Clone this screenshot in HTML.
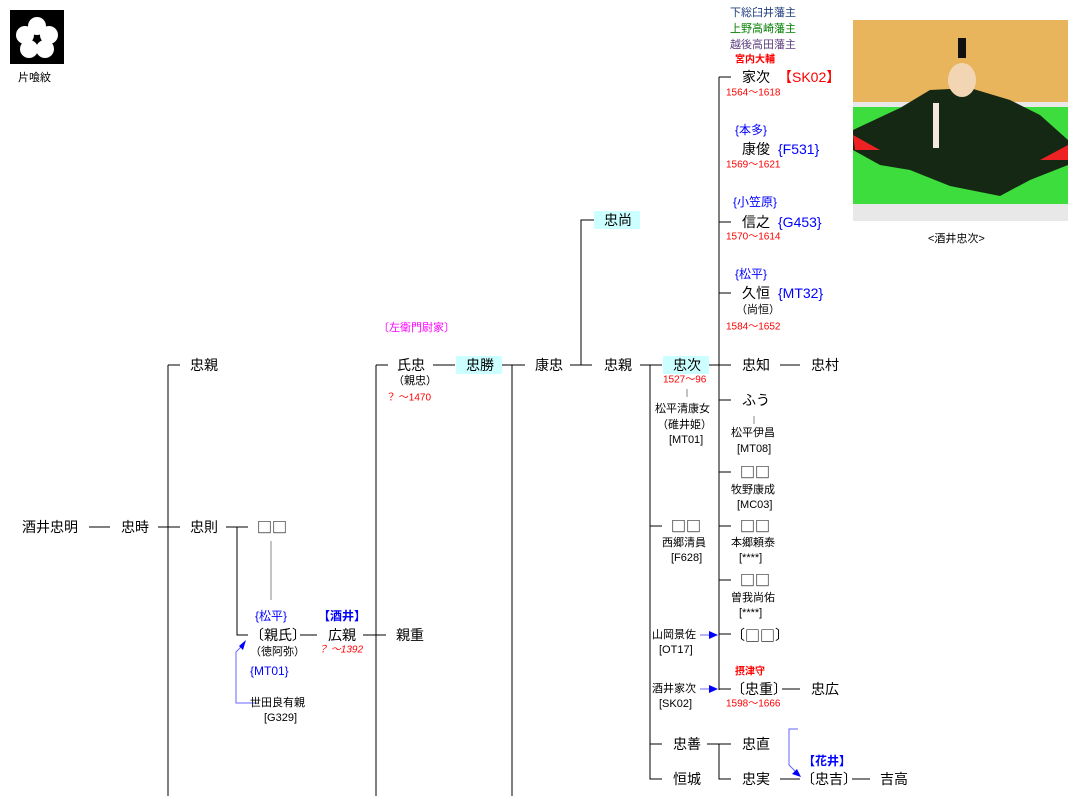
<!DOCTYPE html>
<html><head><meta charset="utf-8"><style>
html,body{margin:0;padding:0;background:#fff;}
svg{display:block;font-family:"Liberation Sans","Noto Sans CJK JP",sans-serif;}
text{dominant-baseline:central;}
.n{font-size:14px;fill:#000;}
.s{font-size:11px;fill:#000;}
.r{font-size:10px;fill:#f00;}
.b{font-size:12px;fill:#00f;}
.q{font-family:"Noto Sans CJK JP",sans-serif;font-size:15px;}
</style></head><body>
<svg width="1074" height="796" viewBox="0 0 1074 796">
<!-- logo -->
<rect x="10" y="10" width="54" height="54" fill="#000"/>
<g fill="#fff" transform="translate(37,38)">
<circle cx="0" cy="-12" r="9"/><circle cx="12" cy="-3" r="9"/><circle cx="8" cy="11" r="9"/><circle cx="-8" cy="11" r="9"/><circle cx="-12" cy="-3" r="9"/>
</g>
<circle cx="37" cy="38" r="3" fill="#000"/>
<text x="18" y="78" class="s">片喰紋</text>

<!-- portrait -->
<rect x="853" y="20" width="215" height="82" fill="#e8b45c"/>
<rect x="853" y="102" width="215" height="103" fill="#3ddd3d"/>
<rect x="853" y="204" width="215" height="17" fill="#e8e8e8"/>
<rect x="853" y="102" width="215" height="5" fill="#e8e8e8"/>
<path d="M853 130 L900 108 L930 90 L970 88 L1010 100 L1040 115 L1068 140 L1068 165 L1030 180 L1000 196 L950 186 L910 170 L880 165 L853 150 Z" fill="#142814"/>
<path d="M853 135 L880 150 L855 150 Z" fill="#e22"/>
<path d="M1040 160 L1068 145 L1068 160 Z" fill="#e22"/>
<ellipse cx="962" cy="80" rx="14" ry="17" fill="#f2d6b4"/>
<rect x="958" y="38" width="8" height="20" fill="#111"/>
<rect x="933" y="103" width="6" height="45" fill="#f4e8e0"/>
<text x="928" y="239" class="s">&lt;酒井忠次&gt;</text>

<!-- lines -->
<g stroke="#000" stroke-width="1" fill="none">
<path d="M89 527H110M158 527H180M168 365V796M168 365H180"/>
<path d="M226 527H248M237 527V635H248"/>
<path d="M300 635H317M363 635H386M376 365V796M376 365H388"/>
<path d="M433 365H455M502 365H525M512 365V796"/>
<path d="M570 365H592M581 365V220H594"/>
<path d="M640 365H662M650 365V779H662M650 526H662M650 744H662"/>
<path d="M709 365H731M719 77V690M719 77H731M719 222H731M719 293H731M719 400H731M719 472H731M719 526H731M719 580H731M719 634H731M719 689H731"/>
<path d="M780 365H800M782 689H800"/>
<path d="M707 744H731M719 744V779H731M780 779H800M852 779H870"/>
</g>
<g stroke="#888" stroke-width="1">
<path d="M271 541V600M687 389V397M754 416V424"/>
</g>
<!-- blue arrows -->
<g stroke="#66f" stroke-width="1" fill="none">
<path d="M256 703H236V652L243 645"/>
<path d="M700 635H710M700 689H710"/>
<path d="M798 729H789V765L797 773"/>
</g>
<g fill="#00f">
<path d="M246 640L239 646L243 650Z"/>
<path d="M718 635L709 631V639Z"/>
<path d="M718 689L709 685V693Z"/>
<path d="M801 777L792 774L797 769Z"/>
</g>

<!-- cyan boxes -->
<rect x="456" y="356" width="46" height="18" fill="#ccffff"/>
<rect x="594" y="211" width="46" height="18" fill="#ccffff"/>
<rect x="663" y="356" width="46" height="18" fill="#ccffff"/>

<!-- left -->
<text x="22" y="527" class="n">酒井忠明</text>
<text x="121" y="527" class="n">忠時</text>
<text x="190" y="365" class="n">忠親</text>
<text x="190" y="527" class="n">忠則</text>
<text x="257" y="527" class="n q">□□</text>
<text x="255" y="616" class="b" font-size="11">{松平}</text>
<text x="318" y="616" class="b" font-size="11" font-weight="bold">【酒井】</text>
<text x="250" y="635" class="n">〔親氏〕</text>
<text x="328" y="635" class="n">広親</text>
<text x="318" y="650" class="r" font-style="italic">？ ～1392</text>
<text x="396" y="635" class="n">親重</text>
<text x="250" y="652" class="s">（徳阿弥）</text>
<text x="250" y="671" class="b">{MT01}</text>
<text x="250" y="703" class="s">世田良有親</text>
<text x="264" y="718" class="s">[G329]</text>

<text x="378" y="328" class="s" style="fill:#f0f">〔左衛門尉家〕</text>
<text x="397" y="365" class="n">氏忠</text>
<text x="393" y="381" class="s">（親忠）</text>
<text x="386" y="398" class="r">？ ～1470</text>
<text x="466" y="365" class="n">忠勝</text>
<text x="535" y="365" class="n">康忠</text>
<text x="604" y="220" class="n">忠尚</text>
<text x="604" y="365" class="n">忠親</text>
<text x="673" y="365" class="n">忠次</text>
<text x="663" y="380" class="r">1527～96</text>
<text x="655" y="409" class="s">松平清康女</text>
<text x="657" y="425" class="s">（碓井姫）</text>
<text x="669" y="440" class="s">[MT01]</text>
<text x="671" y="526" class="n q">□□</text>
<text x="662" y="543" class="s">西郷清員</text>
<text x="671" y="558" class="s">[F628]</text>
<text x="652" y="635" class="s">山岡景佐</text>
<text x="659" y="650" class="s">[OT17]</text>
<text x="652" y="689" class="s">酒井家次</text>
<text x="659" y="704" class="s">[SK02]</text>
<text x="673" y="744" class="n">忠善</text>
<text x="673" y="779" class="n">恒城</text>

<!-- right column -->
<text x="730" y="13" class="s" style="fill:#1f3f7f">下総臼井藩主</text>
<text x="730" y="29" class="s" style="fill:#007f00">上野高崎藩主</text>
<text x="730" y="45" class="s" style="fill:#5f3f7f">越後高田藩主</text>
<text x="735" y="60" class="r" font-weight="bold">宮内大輔</text>
<text x="742" y="77" class="n">家次</text>
<text x="778" y="77" class="n" style="fill:#f00">【SK02】</text>
<text x="726" y="93" class="r">1564～1618</text>
<text x="735" y="130" class="b" font-size="11">{本多}</text>
<text x="742" y="149" class="n">康俊</text>
<text x="778" y="149" class="n" style="fill:#00f">{F531}</text>
<text x="726" y="165" class="r">1569～1621</text>
<text x="733" y="202" class="b" font-size="11">{小笠原}</text>
<text x="742" y="222" class="n">信之</text>
<text x="778" y="222" class="n" style="fill:#00f">{G453}</text>
<text x="726" y="237" class="r">1570～1614</text>
<text x="735" y="274" class="b" font-size="11">{松平}</text>
<text x="742" y="293" class="n">久恒</text>
<text x="778" y="293" class="n" style="fill:#00f">{MT32}</text>
<text x="736" y="310" class="s">（尚恒）</text>
<text x="726" y="327" class="r">1584～1652</text>
<text x="742" y="365" class="n">忠知</text>
<text x="811" y="365" class="n">忠村</text>
<text x="742" y="400" class="n">ふう</text>
<text x="731" y="433" class="s">松平伊昌</text>
<text x="737" y="449" class="s">[MT08]</text>
<text x="740" y="472" class="n q">□□</text>
<text x="731" y="490" class="s">牧野康成</text>
<text x="737" y="505" class="s">[MC03]</text>
<text x="740" y="526" class="n q">□□</text>
<text x="731" y="543" class="s">本郷頼泰</text>
<text x="739" y="558" class="s">[****]</text>
<text x="740" y="580" class="n q">□□</text>
<text x="731" y="598" class="s">曽我尚佑</text>
<text x="739" y="613" class="s">[****]</text>
<text x="731" y="635" class="n">〔<tspan class="q">□□</tspan>〕</text>
<text x="735" y="672" class="r" font-weight="bold">摂津守</text>
<text x="731" y="689" class="n">〔忠重〕</text>
<text x="811" y="689" class="n">忠広</text>
<text x="726" y="704" class="r">1598～1666</text>
<text x="742" y="744" class="n">忠直</text>
<text x="742" y="779" class="n">忠実</text>
<text x="803" y="761" class="b" font-size="11" font-weight="bold">【花井】</text>
<text x="801" y="779" class="n">〔忠吉〕</text>
<text x="880" y="779" class="n">吉高</text>
</svg>
</body></html>
